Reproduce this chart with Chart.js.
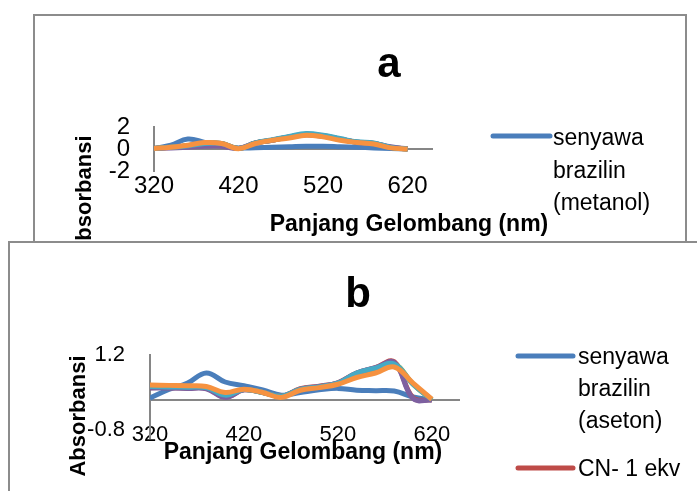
<!DOCTYPE html>
<html>
<head>
<meta charset="utf-8">
<script src="https://cdn.jsdelivr.net/npm/chart.js@4.4.0/dist/chart.umd.min.js"></script>
<style>
html, body { margin: 0; padding: 0; background: #fff; width: 697px; height: 491px; overflow: hidden; position: relative; }
.box { position: absolute; box-sizing: border-box; border: 2px solid #8c8c8c; background: #fff; overflow: hidden; }
.stage { position: absolute; width: 697px; height: 491px; }
.stage canvas, .stage svg { position: absolute; left: 0; top: 0; }
svg text { font-family: 'Liberation Sans', Arial, sans-serif; fill: #000; }
</style>
</head>
<body>
<div class="box" style="left:33px;top:14px;width:654px;height:240px;z-index:1;">
  <div class="stage" style="left:-35px;top:-16px;">
    <canvas id="chartA" width="697" height="491"></canvas>
    <svg id="svgA" width="697" height="491">
      <text x="389" y="77" text-anchor="middle" font-size="42" font-weight="bold">a</text>
      <text x="409" y="231" text-anchor="middle" font-size="23" font-weight="bold">Panjang Gelombang (nm)</text>
      <text transform="translate(91,196) rotate(-90)" text-anchor="middle" font-size="22" font-weight="bold">Absorbansi</text>
    </svg>
  </div>
</div>
<div class="box" style="left:8px;top:241px;width:700px;height:260px;z-index:2;">
  <div class="stage" style="left:-10px;top:-243px;">
    <canvas id="chartB" width="697" height="491"></canvas>
    <svg id="svgB" width="697" height="491">
      <text x="358" y="307" text-anchor="middle" font-size="42" font-weight="bold">b</text>
      <text x="303" y="459" text-anchor="middle" font-size="23" font-weight="bold">Panjang Gelombang (nm)</text>
      <text transform="translate(85,416) rotate(-90)" text-anchor="middle" font-size="22" font-weight="bold">Absorbansi</text>
    </svg>
  </div>
</div>
<script>
// panjang gelombang (nm)
const panjangGelombang = [320, 340, 360, 380, 400, 420, 440, 460, 480, 500, 520, 540, 560, 580, 600, 620];

// grafik a : metanol
const namaSeriA = ['senyawa brazilin (metanol)', 'CN- 1 ekv', 'CN- 2 ekv', 'CN- 3 ekv', 'CN- 4 ekv', 'CN- 5 ekv'];
const a_brazilin = [0.05, 0.35, 0.9, 0.6, 0.3, 0.1, 0.12, 0.15, 0.2, 0.25, 0.25, 0.2, 0.15, 0.1, 0.05, 0.0];
const a_cn1 = [0.05, 0.15, 0.3, 0.5, 0.5, 0.05, 0.55, 0.8, 1.1, 1.3, 1.2, 0.9, 0.62, 0.5, 0.15, 0.0];
const a_cn2 = [0.05, 0.15, 0.3, 0.5, 0.5, 0.05, 0.55, 0.8, 1.1, 1.35, 1.2, 0.9, 0.62, 0.5, 0.15, 0.0];
const a_cn3 = [0.05, 0.1, 0.15, 0.25, 0.25, 0.05, 0.55, 0.8, 1.1, 1.3, 1.15, 0.9, 0.62, 0.5, 0.2, 0.02];
const a_cn4 = [0.05, 0.15, 0.3, 0.5, 0.5, 0.05, 0.55, 0.85, 1.15, 1.4, 1.25, 0.95, 0.65, 0.55, 0.15, 0.0];
const a_cn5 = [0.05, 0.15, 0.35, 0.58, 0.5, 0.03, 0.5, 0.8, 1.0, 1.25, 1.1, 0.8, 0.6, 0.45, 0.1, 0.0];

// grafik b : aseton
const namaSeriB = ['senyawa brazilin (aseton)', 'CN- 1 ekv', 'CN- 2 ekv', 'CN- 3 ekv', 'CN- 4 ekv', 'CN- 5 ekv'];
const b_brazilin = [0.05, 0.28, 0.45, 0.72, 0.48, 0.38, 0.27, 0.13, 0.2, 0.27, 0.31, 0.26, 0.25, 0.24, 0.08, 0.0];
const b_cn1 = [0.33, 0.33, 0.32, 0.31, 0.08, 0.27, 0.2, 0.1, 0.3, 0.37, 0.46, 0.72, 0.86, 1.02, 0.06, 0.0];
const b_cn2 = [0.35, 0.34, 0.33, 0.32, 0.12, 0.28, 0.2, 0.1, 0.28, 0.35, 0.44, 0.7, 0.84, 0.97, 0.42, 0.0];
const b_cn3 = [0.32, 0.32, 0.31, 0.3, 0.07, 0.27, 0.2, 0.1, 0.29, 0.36, 0.46, 0.72, 0.86, 1.0, 0.04, 0.0];
const b_cn4 = [0.36, 0.35, 0.34, 0.33, 0.13, 0.28, 0.2, 0.1, 0.28, 0.35, 0.45, 0.72, 0.85, 0.96, 0.42, 0.01];
const b_cn5 = [0.4, 0.39, 0.38, 0.36, 0.2, 0.29, 0.2, 0.07, 0.26, 0.33, 0.42, 0.6, 0.72, 0.88, 0.45, 0.02];

// sumbu
const xTicks = [320, 420, 520, 620];
const yTicksA = [-2, 0, 2];
const yLabelsA = ['-2', '0', '2'];
const yTicksB = [-0.8, 0, 1.2];
const yLabelsB = ['-0.8', '', '1.2'];

const warna = ['#4A7EBB', '#BE4B48', '#98B954', '#7D60A0', '#46AAC5', '#F69240'];
const abu = '#868686';
const huruf = "'Liberation Sans', Arial, sans-serif";

function tanpaKlip(s) {
    // label sumbu boleh keluar dari kotak skala (seperti di Excel)
    s._computeLabelArea = function () { return undefined; };
}

function buatGrafik(id, seri, nama, g) {
    const ctx = document.getElementById(id).getContext('2d');
    return new Chart(ctx, {
        type: 'line',
        data: {
            datasets: seri.map(function (s, i) {
                return {
                    label: nama[i],
                    data: panjangGelombang.map(function (x, j) { return { x: x, y: s[j] }; }),
                    borderColor: warna[i],
                    backgroundColor: warna[i],
                    borderWidth: 5,
                    pointRadius: 0,
                    tension: 0.4,
                    fill: false,
                    order: seri.length - i
                };
            })
        },
        options: {
            responsive: false,
            animation: false,
            layout: { padding: { left: g.left - 80, right: 697 - g.right, top: g.top, bottom: 491 - g.bottom - 40 } },
            plugins: { legend: { display: false }, title: { display: false }, tooltip: { enabled: false } },
            scales: {
                x: {
                    type: 'linear', min: 320, max: 650,
                    afterFit: function (s) { s.height = 40; tanpaKlip(s); },
                    afterBuildTicks: function (s) { s.ticks = xTicks.map(function (v) { return { value: v }; }); },
                    grid: { display: false },
                    border: { display: false },
                    ticks: { autoSkip: false, maxRotation: 0, padding: g.xPad, color: '#000',
                        font: { family: huruf, size: g.font },
                        callback: function (v) { return String(v); } }
                },
                y: {
                    min: g.yMin, max: g.yMax,
                    afterFit: function (s) { s.width = 80; tanpaKlip(s); },
                    afterBuildTicks: function (s) { s.ticks = g.yTicks.map(function (v) { return { value: v }; }); },
                    grid: { drawTicks: false, lineWidth: 2,
                        color: function (c) { return (c.tick && c.tick.value === 0) ? abu : 'rgba(0,0,0,0)'; } },
                    border: { display: true, color: abu, width: 2 },
                    ticks: { autoSkip: false, padding: g.yPad, color: '#000', font: { family: huruf, size: g.font },
                        callback: function (v, i) { return g.yLabels[i]; } }
                }
            }
        }
    });
}

// legenda (teks dibungkus seperti di Excel)
function buatLegenda(svgId, nama, l) {
    const svg = document.getElementById(svgId);
    const ns = 'http://www.w3.org/2000/svg';
    const ukur = document.createElement('canvas').getContext('2d');
    ukur.font = l.size + 'px ' + huruf;
    let y = l.y;
    nama.forEach(function (n, i) {
        const kata = n.split(' ');
        const baris = [];
        let skr = '';
        kata.forEach(function (k) {
            const coba = skr ? skr + ' ' + k : k;
            if (skr && ukur.measureText(coba).width > l.maxW) { baris.push(skr); skr = k; }
            else { skr = coba; }
        });
        baris.push(skr);
        if (y > l.maxY) return;   // tidak muat di kotak grafik
        const garis = document.createElementNS(ns, 'line');
        garis.setAttribute('x1', l.x1); garis.setAttribute('x2', l.x2);
        garis.setAttribute('y1', y); garis.setAttribute('y2', y);
        garis.setAttribute('stroke', warna[i]); garis.setAttribute('stroke-width', 5);
        garis.setAttribute('stroke-linecap', 'round');
        svg.appendChild(garis);
        baris.forEach(function (b, j) {
            const t = document.createElementNS(ns, 'text');
            t.setAttribute('x', l.tx);
            t.setAttribute('y', y + l.off + j * l.lh);
            t.setAttribute('font-size', l.size);
            t.textContent = b;
            svg.appendChild(t);
        });
        y += baris.length * l.lh + l.gap;
    });
}

buatGrafik('chartA', [a_brazilin, a_cn1, a_cn2, a_cn3, a_cn4, a_cn5], namaSeriA,
    { left: 154, right: 433, top: 127, bottom: 171, yMin: -2, yMax: 2, yTicks: yTicksA, yLabels: yLabelsA, font: 24, xPad: -7, yPad: 24 });
buatGrafik('chartB', [b_brazilin, b_cn1, b_cn2, b_cn3, b_cn4, b_cn5], namaSeriB,
    { left: 150, right: 460, top: 355, bottom: 438, yMin: -1.0133, yMax: 1.2, yTicks: yTicksB, yLabels: yLabelsB, font: 22, xPad: -24, yPad: 25 });

buatLegenda('svgA', namaSeriA, { x1: 493, x2: 550, tx: 553, y: 136, off: 9, lh: 32.5, gap: 15, size: 23, maxW: 120, maxY: 225 });
buatLegenda('svgB', namaSeriB, { x1: 518, x2: 573, tx: 578, y: 356, off: 8, lh: 32, gap: 16, size: 23, maxW: 120, maxY: 1000 });
</script>
</body>
</html>
